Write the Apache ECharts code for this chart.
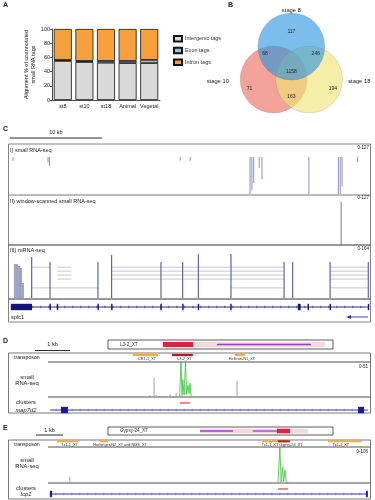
<!DOCTYPE html>
<html><head><meta charset="utf-8">
<script src="https://cdn.jsdelivr.net/npm/echarts@6.0.0/dist/echarts.min.js"></script>
<style>html,body{margin:0;padding:0;background:#fff}#c{width:375px;height:500px}</style>
</head><body><div id="c"></div>
<script>
const FONT = '"Liberation Sans", Arial, Helvetica, sans-serif';

// ---------------- Panel A data ----------------
const stages = ['st8', 'st10', 'st18', 'Animal', 'Vegetal'];
const intergenic = [55, 53.5, 52.5, 52, 52];
const exon = [1.5, 1.5, 2.5, 3, 4.5];
const intron = [43.5, 45, 45, 45, 43.5];
const seriesNamesA = ['Intergenic tags', 'Exon tags', 'Intron tags'];

// ---------------- Panel B data ----------------
const vennSets = ['stage 8', 'stage 10', 'stage 18'];
const vennCounts = [117, 68, 246, 1158, 71, 194, 163];

// ---------------- Panel C data (kb) ----------------
const cSmallPos = [0.43, 4.24, 4.4, 18.6, 19.7, 26.2, 26.4, 26.6, 27.2, 27.5, 32.6, 35.8, 36.0, 36.2, 37.9];
const cSmallDepth = [2, 3, 5, 2, 2, 20, 18, 14, 6, 12, 20, 20, 20, 16, 3];
const cWindowPos = [36.1];
const cWindowVal = [127];
const cMrnaPos = [0.65, 0.87, 1.09, 1.3, 1.52, 2.47, 4.46, 9.67, 11.16, 16.52, 18.88, 20.58, 24.13, 29.9, 30.84, 34.9, 39.05];
const cMrnaDepth = [7.7, 7.7, 7.3, 6.8, 3.4, 9.3, 8.2, 8.2, 9.8, 8.2, 8.2, 10, 10, 8.2, 8.2, 8.2, 8.2];
const cJuncStart = [2.47, 2.47, 5.25, 5.25, 5.25, 5.25, 11.16, 11.16, 11.16, 11.16, 24.13, 34.9, 34.9, 34.9, 34.9, 34.9];
const cJuncEnd   = [4.46, 9.67, 6.8, 6.8, 6.8, 6.8, 29.9, 29.9, 29.9, 29.9, 29.9, 39.05, 39.05, 39.05, 39.05, 39.05];
const cJuncRow   = [7.0, 2.3, 7.0, 6.1, 5.2, 4.3, 7.0, 6.1, 5.2, 4.3, 2.3, 7.0, 6.1, 5.2, 4.3, 2.3];
const cExonStart = [0.2, 4.4, 5.2, 9.62, 11.1, 16.45, 18.83, 20.52, 24.05, 31.4, 32.45, 34.85, 39.0];
const cExonEnd   = [2.5, 4.55, 5.3, 9.75, 11.25, 16.6, 18.95, 20.65, 24.2, 31.7, 32.6, 34.97, 39.12];
const cGene = [0.2, 39.12];
const cGeneName = 'spfc1';

// ---------------- Panel D data ----------------
const dSchemName = 'L3-2_XT';
const dSchemStart = [0, 37.8, 48.4, 24.4];
const dSchemEnd = [100, 96.4, 90.2, 37.8];
const dSchemPart = ['element', 'tail', 'ORF', 'focal'];
const dTeStart = [2.43, 3.54, 5.34];
const dTeEnd = [3.14, 4.14, 5.63];
const dTeClass = ['other', 'focal', 'other'];
const dTeLabel = ['CR1-1_XT', 'L3-2_XT', 'Helitron-N1_XT'];
const dTeLabelPos = [2.83, 3.9, 5.54];
const dGrayPos = [2.91, 3.03, 3.09, 3.49, 3.66, 5.4];
const dGrayVal = [3, 28, 3, 4, 6, 23];
const dGreenPos = [3.76, 3.8, 3.83, 3.85, 3.89, 3.93, 3.96, 4.0, 4.03, 4.06, 4.09];
const dGreenVal = [0, 51, 2, 25, 3, 51, 4, 17, 5, 20, 0];
const dCluster = [3.77, 4.06];
const dGene = [0.06, 9.14];
const dExonStart = [0.37, 8.86];
const dExonEnd = [0.57, 9.03];

// ---------------- Panel E data ----------------
const eSchemName = 'Gypsy-24_XT';
const eSchemStart = [0, 40.9, 40.9, 64.4, 75.1];
const eSchemEnd = [100, 88.9, 55.6, 75.1, 80.9];
const eSchemPart = ['element', 'tail', 'ORF', 'ORF', 'focal'];
const eTeStart = [0.33, 1.93, 7.93, 8.52, 10.37];
const eTeEnd = [1.11, 2.22, 8.96, 8.96, 11.63];
const eTeClass = ['other', 'other', 'other', 'focal', 'other'];
const eTeLabel = ['Tx1-1_XT', 'Harbinger-N2_XT and NMS_XT', 'Tx1-1_XT Gypsy-24_XT', 'Tx1-1_XT'];
const eTeLabelPos = [0.8, 2.67, 8.67, 10.85];
const eGrayPos = [0.63, 0.81, 1.07];
const eGrayVal = [4, 18, 2];
const eGreenPos = [8.52, 8.59, 8.64, 8.69, 8.73, 8.78, 8.83];
const eGreenVal = [0, 106, 3, 47, 4, 38, 0];
const eCluster = [8.52, 8.89];
const eGene = [0.07, 11.85];
const eExonStart = [0.07, 11.78];
const eExonEnd = [0.15, 11.85];

// ================= build =================
const chart = echarts.init(document.getElementById('c'), null, {renderer: 'canvas', width: 375, height: 500});
const grids = [], xAxes = [], yAxes = [], series = [];
function addGrid(g, xa, ya) {
  const i = grids.length;
  grids.push(g);
  xAxes.push(Object.assign({gridIndex: i}, xa));
  yAxes.push(Object.assign({gridIndex: i}, ya));
  return i;
}
function hv(min, max, extra) { return Object.assign({type: 'value', min, max, show: false}, extra || {}); }
function tstyle(text, size, color, align, valign, weight) {
  return {text, font: (weight || '') + ' ' + size + 'px ' + FONT, fill: color || '#222',
    align: align || 'left', textAlign: align || 'left',
    verticalAlign: valign || 'middle', textVerticalAlign: valign || 'middle'};
}

// ---- Panel A ----
const gA = addGrid({left: 52, top: 29, width: 108, height: 71},
  {type: 'category', data: stages,
   axisLine: {lineStyle: {color: '#222', width: 0.8}},
   axisTick: {length: 2, lineStyle: {color: '#222', width: 0.8}},
   axisLabel: {fontSize: 5.5, color: '#222', margin: 3, fontFamily: FONT, interval: 0}},
  {type: 'value', min: 0, max: 100, interval: 20,
   name: 'Alignment % of unannotated\nsmall RNA tags', nameLocation: 'middle', nameGap: 11,
   nameTextStyle: {fontSize: 5.5, color: '#222', lineHeight: 7, fontFamily: FONT},
   axisLine: {show: true, lineStyle: {color: '#222', width: 0.8}},
   axisTick: {show: true, length: 2, lineStyle: {color: '#222', width: 0.8}},
   axisLabel: {fontSize: 5.5, color: '#222', margin: 2, fontFamily: FONT},
   splitLine: {show: false}});
const colorsA = ['#d9d9d9', '#8fc1e3', '#f7a13c'];
[intergenic, exon, intron].forEach((arr, i) => {
  series.push({type: 'bar', name: seriesNamesA[i], stack: 'a', xAxisIndex: gA, yAxisIndex: gA,
    data: arr, barWidth: 18,
    itemStyle: {color: colorsA[i], borderColor: '#111', borderWidth: 0.8}});
});

// ---- Panel B (Venn) ----
const vennR = 1;
const vennCenters = [[-0.53, 0], [0.53, 0], [0, 0.985]];   // layout: stage10, stage18, stage8
const vennColors = ['#ee6a5c', '#eee474', '#2a95e0'];
const vennSetLabelPos = [[0, 2.05], [-2.2, -0.07], [2.03, -0.07]];
const vennCountPos = [[0, 1.42], [-0.79, 0.76], [0.73, 0.76], [0, 0.25], [-1.25, -0.28], [1.24, -0.28], [0, -0.52]];
const vennTexts = vennCounts.map(String).concat(vennSets);
const gB = addGrid({left: 207.75, top: 5.8, width: 167.5, height: 123.95}, hv(-2.5, 2.5), hv(-1.5, 2.2));
series.push({type: 'custom', xAxisIndex: gB, yAxisIndex: gB, clip: false, silent: true,
  data: vennCenters.map((c, i) => [c[0], c[1], i]),
  renderItem: (p, api) => {
    const c = api.coord([api.value(0), api.value(1)]);
    const r = api.size([vennR, 0])[0];
    return {type: 'circle', shape: {cx: c[0], cy: c[1], r},
      style: {fill: vennColors[p.dataIndex], opacity: 0.62, stroke: 'rgba(60,60,60,0.45)', lineWidth: 0.5}};
  }});
series.push({type: 'custom', xAxisIndex: gB, yAxisIndex: gB, clip: false, silent: true,
  data: vennCountPos.concat(vennSetLabelPos).map(c => [c[0], c[1]]),
  renderItem: (p, api) => {
    const c = api.coord([api.value(0), api.value(1)]);
    const isSet = p.dataIndex >= vennCounts.length;
    return {type: 'text', x: c[0], y: c[1], style: tstyle(vennTexts[p.dataIndex], isSet ? 5.8 : 5, '#222', 'center', 'middle')};
  }});

// ---- helpers for genome tracks ----
function hsegSeries(gi, starts, ends, rows, color, w) {
  series.push({type: 'custom', xAxisIndex: gi, yAxisIndex: gi, silent: true,
    data: starts.map((s, i) => [s, ends[i], rows[i]]),
    encode: {x: [0, 1], y: 2},
    renderItem: (p, api) => {
      const a = api.coord([api.value(0), api.value(2)]);
      const b = api.coord([api.value(1), api.value(2)]);
      return {type: 'line', shape: {x1: a[0], y1: a[1], x2: b[0], y2: b[1]}, style: {stroke: color, lineWidth: w}};
    }});
}
function barSeries(gi, pos, val, color, w) {
  series.push({type: 'bar', xAxisIndex: gi, yAxisIndex: gi, silent: true,
    data: pos.map((x, i) => [x, val[i]]), barWidth: w, itemStyle: {color}});
}
function geneSeries(gi, gene, exS, exE, color, tickColor) {
  series.push({type: 'custom', xAxisIndex: gi, yAxisIndex: gi, silent: true,
    data: [[gene[0], gene[1]]], encode: {x: [0, 1]},
    renderItem: (p, api) => {
      const a = api.coord([api.value(0), 0.5]);
      const b = api.coord([api.value(1), 0.5]);
      const ch = [{type: 'line', shape: {x1: a[0], y1: a[1], x2: b[0], y2: b[1]}, style: {stroke: color, lineWidth: 0.9}}];
      for (let x = a[0] + 6; x < b[0] - 3; x += 8) {
        ch.push({type: 'line', shape: {x1: x, y1: a[1] - 1.3, x2: x, y2: a[1] + 1.3}, style: {stroke: tickColor, lineWidth: 0.6}});
      }
      return {type: 'group', children: ch};
    }});
  series.push({type: 'custom', xAxisIndex: gi, yAxisIndex: gi, silent: true,
    data: exS.map((s, i) => [s, exE[i]]), encode: {x: [0, 1]},
    renderItem: (p, api) => {
      const a = api.coord([api.value(0), 0.9]);
      const b = api.coord([api.value(1), 0.1]);
      const w = Math.max(1.4, b[0] - a[0]);
      return {type: 'rect', shape: {x: a[0], y: a[1], width: w, height: b[1] - a[1]}, style: {fill: color}};
    }});
}
function teSeries(gi, st, en, cls, labels, labelPos) {
  series.push({type: 'custom', xAxisIndex: gi, yAxisIndex: gi, silent: true, clip: false,
    data: st.map((s, i) => [s, en[i]]), encode: {x: [0, 1]},
    renderItem: (p, api) => {
      const a = api.coord([api.value(0), 0.1]);
      const b = api.coord([api.value(1), 0.35]);
      return {type: 'rect', shape: {x: a[0], y: a[1], width: b[0] - a[0], height: Math.max(1.8, b[1] - a[1])},
        style: {fill: cls[p.dataIndex] === 'focal' ? '#b5172f' : '#f2ae3a'}};
    }});
  series.push({type: 'custom', xAxisIndex: gi, yAxisIndex: gi, silent: true, clip: false,
    data: labelPos.map(x => [x, 0.62]),
    renderItem: (p, api) => {
      const c = api.coord([api.value(0), api.value(1)]);
      return {type: 'text', x: c[0], y: c[1], style: tstyle(labels[p.dataIndex], 3.8, '#333', 'center', 'middle')};
    }});
}
function schemSeries(gi, st, en, parts, name) {
  const fills = {element: '#ffffff', tail: '#f7d7d7', focal: '#e0203c', ORF: '#a23cc8'};
  series.push({type: 'custom', xAxisIndex: gi, yAxisIndex: gi, silent: true, clip: false,
    data: st.map((s, i) => [s, en[i]]), encode: {x: [0, 1]},
    renderItem: (p, api) => {
      const part = parts[p.dataIndex];
      if (part === 'element') {
        const a = api.coord([api.value(0), 1]); const b = api.coord([api.value(1), 0]);
        return {type: 'group', children: [
          {type: 'rect', shape: {x: a[0], y: a[1], width: b[0] - a[0], height: b[1] - a[1]}, style: {fill: '#fff', stroke: '#333', lineWidth: 0.8}},
          {type: 'text', x: a[0] + 12, y: (a[1] + b[1]) / 2, style: tstyle(name, 4.6, '#333', 'left', 'middle')}]};
      }
      if (part === 'ORF') {
        const a = api.coord([api.value(0), 0.5]); const b = api.coord([api.value(1), 0.5]);
        return {type: 'line', shape: {x1: a[0], y1: a[1], x2: b[0], y2: b[1]}, style: {stroke: fills.ORF, lineWidth: 1.3}};
      }
      const a = api.coord([api.value(0), 0.78]); const b = api.coord([api.value(1), 0.22]);
      return {type: 'rect', shape: {x: a[0], y: a[1], width: b[0] - a[0], height: b[1] - a[1]}, style: {fill: fills[part]}};
    }});
}

// ---- Panel C ----
const CMAX = 39.24;
const gC1 = addGrid({left: 9, top: 157, width: 361, height: 37}, hv(0, CMAX), hv(0, 20, {inverse: true}));
barSeries(gC1, cSmallPos, cSmallDepth, '#8e8ec6', 0.8);
const gC2 = addGrid({left: 9, top: 202, width: 361, height: 43}, hv(0, CMAX), hv(0, 127));
barSeries(gC2, cWindowPos, cWindowVal, '#7a7a7a', 0.8);
const gC3 = addGrid({left: 9, top: 254, width: 361, height: 44}, hv(0, CMAX), hv(0, 10));
hsegSeries(gC3, cJuncStart, cJuncEnd, cJuncRow, '#a9b0c2', 0.7);
barSeries(gC3, cMrnaPos, cMrnaDepth, '#3d4a8f', 0.7);
const gCg = addGrid({left: 9, top: 303, width: 361, height: 8}, hv(0, CMAX), hv(0, 1));
geneSeries(gCg, cGene, cExonStart, cExonEnd, '#141478', '#141478');

// ---- Panel D ----
const gDs = addGrid({left: 108, top: 340, width: 225, height: 9}, hv(0, 100), hv(0, 1));
schemSeries(gDs, dSchemStart, dSchemEnd, dSchemPart, dSchemName);
const DMAX = 9.2;
const gDt = addGrid({left: 48, top: 353, width: 322, height: 9}, hv(0, DMAX), hv(0, 1, {inverse: true}));
teSeries(gDt, dTeStart, dTeEnd, dTeClass, dTeLabel, dTeLabelPos);
const gDsig = addGrid({left: 48, top: 362, width: 322, height: 35}, hv(0, DMAX), hv(0, 51));
barSeries(gDsig, dGrayPos, dGrayVal, '#a0a0a0', 1);
series.push({type: 'line', xAxisIndex: gDsig, yAxisIndex: gDsig, silent: true, symbol: 'none',
  data: dGreenPos.map((x, i) => [x, dGreenVal[i]]), lineStyle: {color: '#35c035', width: 0.8}});
const gDc = addGrid({left: 48, top: 400, width: 322, height: 6}, hv(0, DMAX), hv(0, 1));
hsegSeries(gDc, [dCluster[0]], [dCluster[1]], [0.5], '#e0403a', 1.2);
const gDg = addGrid({left: 48, top: 406, width: 322, height: 8}, hv(0, DMAX), hv(0, 1));
geneSeries(gDg, dGene, dExonStart, dExonEnd, '#1a1a9a', '#5060c8');

// ---- Panel E ----
const gEs = addGrid({left: 108, top: 427, width: 225, height: 8}, hv(0, 100), hv(0, 1));
schemSeries(gEs, eSchemStart, eSchemEnd, eSchemPart, eSchemName);
const EMAX = 11.93;
const gEt = addGrid({left: 48, top: 439.5, width: 322, height: 8}, hv(0, EMAX), hv(0, 1, {inverse: true}));
teSeries(gEt, eTeStart, eTeEnd, eTeClass, eTeLabel, eTeLabelPos);
const gEsig = addGrid({left: 48, top: 447, width: 322, height: 36}, hv(0, EMAX), hv(0, 106));
barSeries(gEsig, eGrayPos, eGrayVal, '#a0a0a0', 1);
series.push({type: 'line', xAxisIndex: gEsig, yAxisIndex: gEsig, silent: true, symbol: 'none',
  data: eGreenPos.map((x, i) => [x, eGreenVal[i]]), lineStyle: {color: '#35c035', width: 0.8}});
const gEc = addGrid({left: 48, top: 486, width: 322, height: 6}, hv(0, EMAX), hv(0, 1));
hsegSeries(gEc, [eCluster[0]], [eCluster[1]], [0.5], '#e0403a', 1.2);
const gEg = addGrid({left: 48, top: 490, width: 322, height: 8}, hv(0, EMAX), hv(0, 1));
geneSeries(gEg, eGene, eExonStart, eExonEnd, '#1a1a9a', '#5060c8');

chart.setOption({
  animation: false,
  backgroundColor: '#fff',
  textStyle: {fontFamily: FONT},
  grid: grids, xAxis: xAxes, yAxis: yAxes, series,
  legend: {data: seriesNamesA.map(n => ({name: n, icon: 'rect'})), orient: 'vertical', left: 168, top: 30,
    itemWidth: 8, itemHeight: 5.5, itemGap: 4.2,
    textStyle: {fontSize: 5.5, color: '#333', fontFamily: FONT, padding: [0, 0, 0, -2]}, selectedMode: false}
});

// ---- annotations (text, frames, scale bars) ----
const G = [];
function txt(x, y, t, size, opt) {
  opt = opt || {};
  G.push({type: 'text', x, y, silent: true, style: tstyle(t, size, opt.color || '#222', opt.align || 'left', 'middle', opt.weight || '')});
}
function ln(x1, y1, x2, y2, color, w) { G.push({type: 'line', silent: true, shape: {x1, y1, x2, y2}, style: {stroke: color || '#333', lineWidth: w || 0.8}}); }
function rc(x, y, w, h, color, lw) { G.push({type: 'rect', silent: true, shape: {x, y, width: w, height: h}, style: {fill: 'none', stroke: color || '#555', lineWidth: lw || 0.8}}); }
const px = (gi, v) => chart.convertToPixel({xAxisIndex: gi}, v);

// letters
txt(3, 5, 'A', 7, {weight: 'bold'});
txt(228, 5, 'B', 7, {weight: 'bold'});
txt(3, 129, 'C', 7, {weight: 'bold'});
txt(3, 341, 'D', 7, {weight: 'bold'});
txt(3, 428, 'E', 7, {weight: 'bold'});

// C
const c0 = px(gC1, 0.1), c10 = px(gC1, 10.1);
ln(c0, 138, c10, 138, '#111', 0.9);
txt((c0 + c10) / 2, 132, '10 kb', 5.5, {align: 'center'});
rc(8.5, 144, 362, 178, '#666', 0.8);
ln(8.5, 195, 370.5, 195, '#555', 0.8);
ln(8.5, 245, 370.5, 245, '#333', 1);
ln(8.5, 299, 370.5, 299, '#333', 1);
txt(10, 150, 'I) small RNA-seq', 5.5);
txt(369, 148, '0-127', 4.5, {align: 'right'});
txt(10, 201, 'II) window-scanned small RNA-seq', 5.5);
txt(369, 198, '0-127', 4.5, {align: 'right'});
txt(10, 250, 'III) mRNA-seq', 5.5);
txt(369, 249, '0-164', 4.5, {align: 'right'});
txt(11, 317, cGeneName, 5.5);
ln(349, 317, 368, 317, '#2a2a90', 0.9);
G.push({type: 'polygon', silent: true, shape: {points: [[346, 317], [351, 315.3], [351, 318.7]]}, style: {fill: '#2a2a90'}});

// D
const d0 = px(gDsig, 0), d1 = px(gDsig, 1);
ln(35, 350.5, 35 + (d1 - d0), 350.5, '#111', 0.9);
txt(35 + (d1 - d0) / 2, 344.5, '1 kb', 5.5, {align: 'center'});
rc(8.5, 353, 362, 60, '#555', 0.8);
ln(48, 362, 370.5, 362, '#222', 0.8);
ln(48, 397, 370.5, 397, '#222', 0.8);
txt(14, 358, 'transposon', 5.2);
txt(368, 367, '0-51', 4.5, {align: 'right'});
txt(27, 377, 'small', 5.8, {align: 'center'});
txt(27, 383, 'RNA-seq', 5.8, {align: 'center'});
txt(26, 402.5, 'clusters', 5.8, {align: 'center'});
G.push({type: 'text', x: 26, y: 410, silent: true, style: Object.assign(tstyle('map7d2', 5.8, '#222', 'center', 'middle'), {font: 'italic 5.8px ' + FONT})});

// E
const e0 = px(gEsig, 0), e1 = px(gEsig, 1);
ln(36, 435, 36 + (e1 - e0), 435, '#111', 0.9);
txt(36 + (e1 - e0) / 2, 430, '1 kb', 5.5, {align: 'center'});
rc(8.5, 440, 362, 59, '#555', 0.8);
ln(48, 447, 370.5, 447, '#222', 0.8);
ln(48, 483, 370.5, 483, '#222', 0.8);
txt(14, 445, 'transposon', 5.2);
txt(368, 452, '0-106', 4.5, {align: 'right'});
txt(27, 460, 'small', 5.8, {align: 'center'});
txt(27, 466, 'RNA-seq', 5.8, {align: 'center'});
txt(26, 488, 'clusters', 5.8, {align: 'center'});
G.push({type: 'text', x: 26, y: 494.5, silent: true, style: Object.assign(tstyle('tcp1', 5.8, '#222', 'center', 'middle'), {font: 'italic 5.8px ' + FONT})});

chart.setOption({graphic: {elements: G}});
</script></body></html>
